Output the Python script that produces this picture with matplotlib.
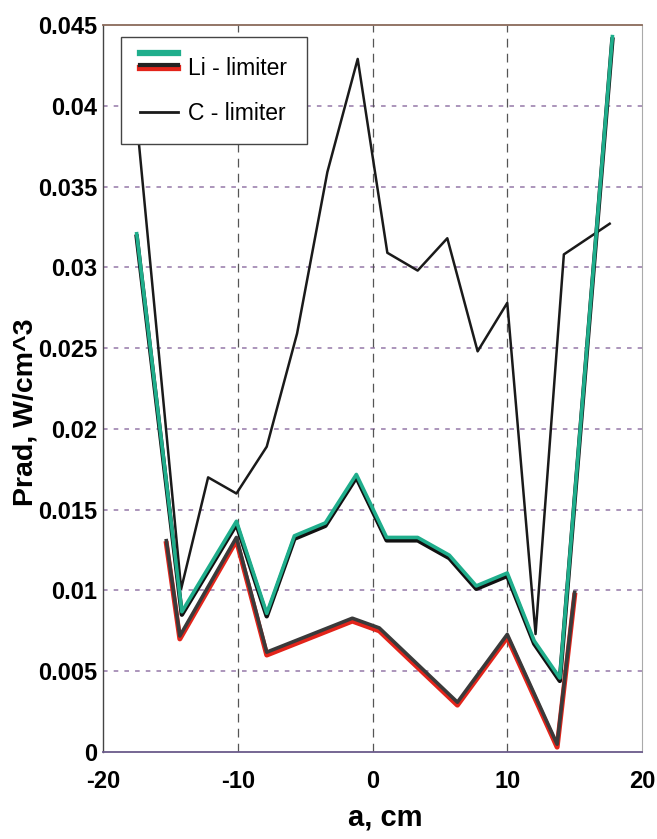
import numpy as np
import matplotlib
matplotlib.use('Agg')
import matplotlib.pyplot as plt
from matplotlib.lines import Line2D
from matplotlib.legend_handler import HandlerBase
from matplotlib.transforms import offset_copy
from matplotlib.ticker import FuncFormatter

# C - limiter (thin black line)
a_c = [-17.6, -14.2, -12.2, -10.1, -7.85, -5.6, -3.35, -1.1, 1.1, 3.35, 5.55, 7.8, 10.0, 12.1, 14.2, 17.6]
p_c = [0.0400, 0.0101, 0.0170, 0.0160, 0.0189, 0.0259, 0.0359, 0.0429, 0.0309, 0.0298, 0.0318, 0.0248, 0.0278, 0.0073, 0.0308, 0.0327]

# Li - limiter, upper trace (teal)
a_li1 = [-17.5, -14.15, -10.1, -7.85, -5.8, -3.5, -1.2, 1.05, 3.35, 5.7, 7.7, 10.0, 12.0, 13.9, 17.8]
p_li1 = [0.0320, 0.0086, 0.0142, 0.0085, 0.0133, 0.0141, 0.0171, 0.0132, 0.0132, 0.0121, 0.0102, 0.0110, 0.0068, 0.0045, 0.0442]

# Li - limiter, lower trace (red)
a_li2 = [-15.3, -14.3, -10.1, -7.85, -1.5, 0.5, 6.3, 10.0, 13.7, 15.0]
p_li2 = [0.0130, 0.0071, 0.0132, 0.0061, 0.0082, 0.0076, 0.0030, 0.0072, 0.0004, 0.0098]

xticks = [-20, -10, 0, 10, 20]
yticks = [0, 0.005, 0.01, 0.015, 0.02, 0.025, 0.03, 0.035, 0.04, 0.045]

teal = '#1fae8c'
red = '#e3241a'

plt.rcParams['font.family'] = ['Liberation Sans', 'DejaVu Sans']
plt.rcParams['axes.unicode_minus'] = False

fig = plt.figure(figsize=(6.57, 8.39), dpi=100)
ax = fig.add_axes([0.1568, 0.1037, 0.8204, 0.8665])

# small offsets so the doubled traces look like the scanned original
up = offset_copy(ax.transData, fig=fig, x=0, y=1.3, units='dots')
down = offset_copy(ax.transData, fig=fig, x=0, y=-1.6, units='dots')

ax.plot(a_c, p_c, color='#1a1a1a', lw=1.8, zorder=3)

ax.plot(a_li1, p_li1, color='#111111', lw=3.2, transform=down, zorder=4)
ax.plot(a_li1, p_li1, color=teal, lw=2.6, transform=up, zorder=5)

ax.plot(a_li2, p_li2, color=red, lw=3.6, transform=down, zorder=4)
ax.plot(a_li2, p_li2, color='#3a3a3a', lw=2.6, transform=up, zorder=5)

ax.set_xlim(-20, 20)
ax.set_ylim(0, 0.045)
ax.set_xticks(xticks)
ax.set_yticks(yticks)
ax.yaxis.set_major_formatter(FuncFormatter(lambda v, pos: '%g' % v))
ax.tick_params(length=0, labelsize=17)
ax.tick_params(axis='x', pad=13)
ax.tick_params(axis='y', pad=4)
for lab in ax.get_xticklabels() + ax.get_yticklabels():
    lab.set_fontweight('bold')

# grid: coloured short dashes horizontally, dark long dashes vertically
for yv in yticks[1:-1]:
    ax.axhline(yv, color='#9478a8', lw=1.1, dashes=(3, 4), zorder=1)
for xv in xticks[1:-1]:
    ax.axvline(xv, color='#555555', lw=0.9, dashes=(7, 5), zorder=1)

ax.spines['left'].set_color('#444444')
ax.spines['left'].set_linewidth(1.0)
ax.spines['bottom'].set_color('#6a5a8a')
ax.spines['bottom'].set_linewidth(1.3)
ax.spines['top'].set_color('#8a6a5a')
ax.spines['top'].set_linewidth(1.3)
ax.spines['right'].set_color('#aaaaaa')
ax.spines['right'].set_linewidth(0.8)

ax.set_xlabel('a, cm', fontsize=21, fontweight='bold')
ax.set_ylabel('Prad, W/cm^3', fontsize=20.5, fontweight='bold')
ax.xaxis.set_label_coords(0.523, -0.071)
ax.yaxis.set_label_coords(-0.119, 0.468)


class LiHandler(HandlerBase):
    def create_artists(self, legend, orig_handle, xdescent, ydescent,
                       width, height, fontsize, trans):
        xs = [-xdescent, -xdescent + width]
        yc = height / 2 - ydescent
        a = Line2D(xs, [yc + 10] * 2, color=teal, lw=4.5)
        b = Line2D(xs, [yc - 1] * 2, color=red, lw=4.5)
        c = Line2D(xs, [yc + 1] * 2, color='#222222', lw=3)
        for l in (a, b, c):
            l.set_transform(trans)
        return [a, b, c]


li_handle = Line2D([], [], color=red)
c_handle = Line2D([], [], color='#1a1a1a', lw=2)
leg = ax.legend([li_handle, c_handle], ['Li - limiter', 'C - limiter'],
                handler_map={li_handle: LiHandler()},
                loc='upper left', bbox_to_anchor=(0.033, 0.983),
                borderaxespad=0, fontsize=16.5, fancybox=False,
                framealpha=1, edgecolor='#444444', handlelength=1.65,
                handletextpad=0.45, labelspacing=0.95, borderpad=0.85)
leg.get_frame().set_linewidth(1.0)
leg.set_zorder(10)

fig.savefig('out.png', dpi=100)
